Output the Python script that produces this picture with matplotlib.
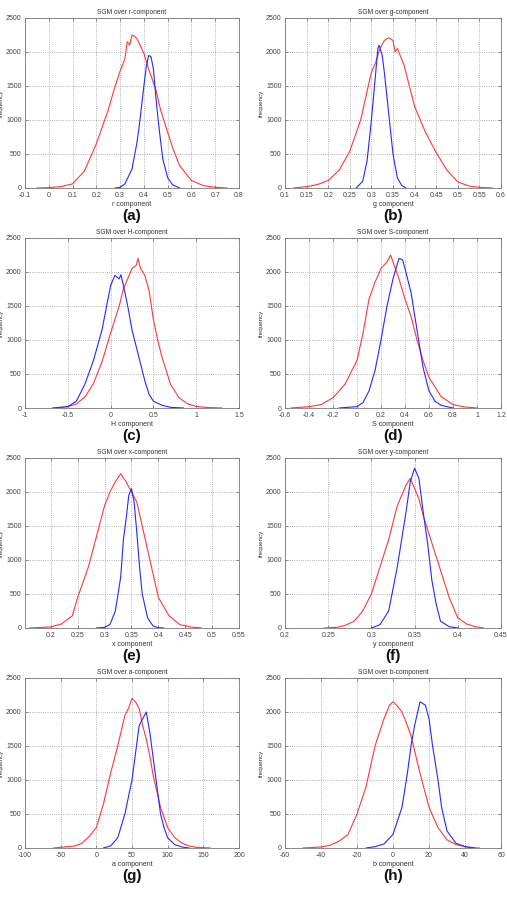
"""SGM histograms over colour components (r,g,H,S,x,y,a,b)."""
import matplotlib
matplotlib.use("Agg")
import matplotlib.pyplot as plt
import numpy as np

plt.rcParams['font.family'] = ['Liberation Sans', 'DejaVu Sans']
plt.rcParams['xtick.direction'] = 'in'
plt.rcParams['ytick.direction'] = 'in'

# ---- data (x, frequency) ----
r_red_x = [-0.05, 0.0, 0.05, 0.1, 0.15, 0.2, 0.225, 0.25, 0.275, 0.3, 0.32, 0.33, 0.34, 0.35, 0.36, 0.37, 0.38, 0.4, 0.42, 0.45, 0.47, 0.5, 0.52, 0.55, 0.6, 0.65, 0.7, 0.75]
r_red_y = [0, 5, 20, 60, 250, 650, 900, 1150, 1450, 1720, 1900, 2150, 2100, 2250, 2230, 2200, 2130, 1980, 1750, 1450, 1150, 820, 600, 330, 110, 35, 10, 0]
r_blue_x = [0.28, 0.3, 0.32, 0.35, 0.37, 0.38, 0.4, 0.41, 0.42, 0.43, 0.44, 0.45, 0.46, 0.47, 0.48, 0.5, 0.52, 0.55]
r_blue_y = [0, 10, 60, 280, 650, 900, 1500, 1780, 1950, 1930, 1750, 1350, 1000, 700, 420, 150, 50, 0]

g_red_x = [0.12, 0.15, 0.175, 0.2, 0.225, 0.25, 0.275, 0.3, 0.31, 0.32, 0.33, 0.34, 0.35, 0.355, 0.36, 0.375, 0.4, 0.425, 0.45, 0.475, 0.5, 0.525, 0.55, 0.58]
g_red_y = [0, 20, 50, 110, 260, 540, 1000, 1700, 1850, 2050, 2170, 2210, 2170, 2000, 2050, 1820, 1200, 820, 520, 260, 90, 30, 10, 0]
g_blue_x = [0.265, 0.28, 0.29, 0.3, 0.31, 0.315, 0.318, 0.325, 0.33, 0.34, 0.35, 0.36, 0.37, 0.38]
g_blue_y = [0, 100, 400, 1000, 1700, 2050, 2100, 1950, 1700, 1100, 500, 150, 40, 0]

h_red_x = [-0.65, -0.5, -0.4, -0.3, -0.2, -0.1, 0.0, 0.1, 0.15, 0.2, 0.25, 0.3, 0.32, 0.35, 0.4, 0.45, 0.5, 0.55, 0.6, 0.7, 0.8, 0.9, 1.0, 1.1, 1.3]
h_red_y = [0, 20, 60, 160, 360, 680, 1100, 1500, 1750, 1900, 2050, 2100, 2200, 2050, 1950, 1720, 1300, 1000, 750, 350, 150, 60, 25, 10, 0]
h_blue_x = [-0.68, -0.5, -0.4, -0.3, -0.2, -0.1, 0.0, 0.05, 0.1, 0.12, 0.15, 0.2, 0.25, 0.3, 0.35, 0.4, 0.45, 0.5, 0.6, 0.7, 0.85]
h_blue_y = [0, 20, 100, 350, 700, 1150, 1800, 1950, 1900, 1960, 1800, 1500, 1150, 900, 650, 400, 200, 100, 40, 10, 0]

s_red_x = [-0.55, -0.4, -0.3, -0.2, -0.1, 0.0, 0.05, 0.1, 0.15, 0.2, 0.25, 0.28, 0.3, 0.35, 0.4, 0.45, 0.5, 0.55, 0.6, 0.7, 0.8, 0.9, 1.0]
s_red_y = [0, 20, 50, 150, 350, 700, 1100, 1600, 1850, 2050, 2150, 2250, 2150, 1900, 1600, 1350, 1000, 700, 450, 170, 50, 15, 0]
s_blue_x = [-0.15, 0.0, 0.05, 0.1, 0.15, 0.2, 0.25, 0.3, 0.35, 0.38, 0.4, 0.45, 0.5, 0.55, 0.6, 0.65, 0.7, 0.8]
s_blue_y = [0, 20, 80, 250, 550, 1000, 1500, 1900, 2200, 2180, 2050, 1700, 1150, 600, 250, 100, 40, 0]

x_red_x = [0.16, 0.2, 0.22, 0.24, 0.25, 0.27, 0.28, 0.29, 0.3, 0.31, 0.32, 0.33, 0.34, 0.35, 0.36, 0.37, 0.38, 0.39, 0.4, 0.42, 0.44, 0.46, 0.48]
x_red_y = [0, 15, 60, 180, 450, 900, 1200, 1500, 1800, 2000, 2150, 2270, 2150, 2000, 1850, 1500, 1150, 800, 450, 180, 50, 15, 0]
x_blue_x = [0.285, 0.3, 0.31, 0.32, 0.33, 0.335, 0.34, 0.345, 0.35, 0.355, 0.36, 0.365, 0.37, 0.38, 0.39, 0.4, 0.41]
x_blue_y = [0, 10, 50, 250, 750, 1300, 1600, 1950, 2050, 1850, 1400, 900, 500, 150, 30, 5, 0]

y_red_x = [0.245, 0.26, 0.27, 0.28, 0.29, 0.3, 0.31, 0.32, 0.33, 0.34, 0.345, 0.35, 0.355, 0.36, 0.37, 0.38, 0.39, 0.4, 0.41, 0.42, 0.43]
y_red_y = [0, 10, 40, 100, 250, 500, 900, 1300, 1800, 2100, 2200, 2050, 1900, 1650, 1250, 850, 450, 150, 60, 20, 0]
y_blue_x = [0.3, 0.31, 0.32, 0.33, 0.34, 0.345, 0.35, 0.355, 0.36, 0.365, 0.37, 0.375, 0.38, 0.39, 0.4]
y_blue_y = [0, 50, 250, 900, 1700, 2150, 2350, 2200, 1700, 1250, 700, 350, 100, 20, 0]

a_red_x = [-60, -50, -30, -20, -10, 0, 10, 20, 30, 40, 45, 50, 55, 60, 65, 70, 75, 80, 90, 100, 110, 120, 130, 140, 150, 160]
a_red_y = [0, 10, 30, 70, 170, 300, 650, 1100, 1500, 1950, 2050, 2200, 2150, 2050, 1800, 1600, 1350, 1050, 600, 300, 150, 70, 30, 10, 5, 0]
a_blue_x = [10, 20, 30, 40, 50, 55, 60, 65, 70, 75, 80, 85, 90, 95, 100, 110, 120, 130]
a_blue_y = [0, 30, 150, 500, 1000, 1400, 1800, 1900, 2000, 1700, 1300, 900, 500, 300, 150, 50, 15, 0]

b_red_x = [-50, -40, -35, -30, -25, -20, -15, -10, -5, -2, 0, 2, 5, 8, 10, 15, 20, 25, 30, 35, 40, 45, 48]
b_red_y = [0, 15, 40, 100, 200, 500, 900, 1500, 1900, 2100, 2150, 2100, 2000, 1800, 1650, 1100, 600, 300, 120, 50, 20, 5, 0]
b_blue_x = [-15, -10, -5, 0, 5, 8, 10, 12, 15, 18, 20, 22, 25, 27, 30, 35, 40, 45]
b_blue_y = [0, 20, 60, 200, 600, 1100, 1500, 1800, 2150, 2100, 1900, 1500, 1000, 600, 250, 70, 20, 0]

comp_names = ['r', 'g', 'H', 'S', 'x', 'y', 'a', 'b']
panel_tags = ['(a)', '(b)', '(c)', '(d)', '(e)', '(f)', '(g)', '(h)']
red_series = [(r_red_x, r_red_y), (g_red_x, g_red_y), (h_red_x, h_red_y), (s_red_x, s_red_y),
              (x_red_x, x_red_y), (y_red_x, y_red_y), (a_red_x, a_red_y), (b_red_x, b_red_y)]
blue_series = [(r_blue_x, r_blue_y), (g_blue_x, g_blue_y), (h_blue_x, h_blue_y), (s_blue_x, s_blue_y),
               (x_blue_x, x_blue_y), (y_blue_x, y_blue_y), (a_blue_x, a_blue_y), (b_blue_x, b_blue_y)]
x_limits = [(-0.1, 0.8), (0.1, 0.6), (-1, 1.5), (-0.6, 1.2), (0.152, 0.55), (0.2, 0.45), (-100, 200), (-60, 60)]
x_ticks = [np.arange(-0.1, 0.81, 0.1), np.arange(0.1, 0.61, 0.05), np.arange(-1, 1.51, 0.5),
           np.arange(-0.6, 1.21, 0.2), np.arange(0.2, 0.551, 0.05), np.arange(0.2, 0.451, 0.05),
           np.arange(-100, 201, 50), np.arange(-60, 61, 20)]
y_ticks = [0, 500, 1000, 1500, 2000, 2500]

W, H = 507, 917
fig = plt.figure(figsize=(W / 100, H / 100), dpi=100)

row_tops = [18, 238, 458, 678]
ax_h = 170
col_left = [25, 285]
col_w = [214, 216]

for i in range(8):
    row, col = divmod(i, 2)
    left = col_left[col] / W
    bottom = 1 - (row_tops[row] + ax_h) / H
    ax = fig.add_axes([left, bottom, col_w[col] / W, ax_h / H])

    rx, ry = red_series[i]
    bx, by = blue_series[i]
    ax.plot(rx, ry, color='#ff3838', lw=0.8)
    ax.plot(bx, by, color='#2828ff', lw=0.8)

    ax.set_xlim(*x_limits[i])
    ax.set_ylim(0, 2500)
    ax.set_xticks(x_ticks[i])
    ax.set_xticklabels(['%g' % round(v, 3) for v in x_ticks[i]])
    ax.set_yticks(y_ticks)
    ax.grid(True, linestyle=':', color='#999999', lw=0.6)
    ax.tick_params(labelsize=5, length=2, width=0.4, top=True, right=True,
                   colors='#444444', pad=1.5)
    ax.tick_params(axis='x', pad=3)
    ax.tick_params(axis='y', pad=2.5)
    for sp in ax.spines.values():
        sp.set_color('#777777')
        sp.set_linewidth(0.6)

    ax.set_title('SGM over %s-component' % comp_names[i], fontsize=4.8, color='#333333', pad=3)
    ax.set_xlabel('%s component' % comp_names[i], fontsize=5, color='#333333', labelpad=1)
    ax.set_ylabel('frequency', fontsize=4.5, color='#333333', labelpad=1.5)
    ax.text(0.5, -28 / ax_h, panel_tags[i], transform=ax.transAxes, ha='center', va='center',
            fontsize=11, fontweight='bold', color='#111111')

fig.savefig('out.png', dpi=100)
